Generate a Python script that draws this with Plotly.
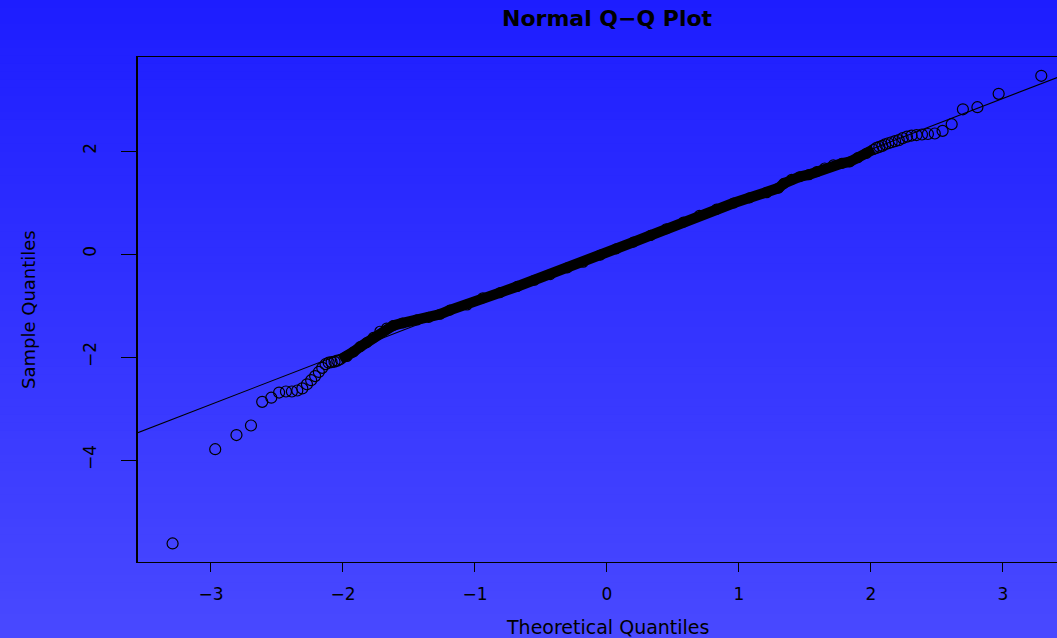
import plotly.graph_objects as go

# ---- data ----
# lower tail: theoretical quantiles and sample quantiles
theo_low = [-3.291, -2.968, -2.807, -2.697, -2.612, -2.543, -2.484, -2.432, -2.387, -2.346,
            -2.308, -2.273, -2.241, -2.211, -2.183, -2.157, -2.132, -2.108, -2.086, -2.064, -2.043]
samp_low = [-5.62, -3.79, -3.515, -3.33, -2.87, -2.79, -2.69, -2.67, -2.67, -2.65,
            -2.61, -2.53, -2.45, -2.37, -2.29, -2.21, -2.14, -2.11, -2.10, -2.09, -2.07]

# dense central band (points overlap into a solid band)
band_theo = [-2.02, -1.97, -1.92, -1.87, -1.82, -1.77, -1.72, -1.67, -1.62, -1.55, -1.44, -1.35,
             -1.265, -1.19, -1.06, -0.94, -0.81, -0.68, -0.55, -0.43, -0.30, -0.18, -0.05, 0.07,
             0.20, 0.33, 0.45, 0.58, 0.70, 0.83, 0.96, 1.08, 1.21, 1.30, 1.34, 1.40, 1.46, 1.53,
             1.59, 1.65, 1.715, 1.78, 1.84, 1.90, 1.967, 2.02]
band_samp = [-2.05, -1.99, -1.90, -1.80, -1.72, -1.62, -1.50, -1.44, -1.39, -1.34, -1.28, -1.23,
             -1.17, -1.09, -0.99, -0.85, -0.75, -0.63, -0.51, -0.40, -0.27, -0.16, -0.02, 0.10,
             0.23, 0.36, 0.49, 0.62, 0.75, 0.87, 0.99, 1.09, 1.19, 1.28, 1.37, 1.45, 1.50, 1.54,
             1.60, 1.67, 1.73, 1.76, 1.79, 1.87, 1.955, 2.03]

# upper tail
theo_high = [2.043, 2.064, 2.086, 2.108, 2.132, 2.157, 2.183, 2.211, 2.241, 2.273, 2.308,
             2.346, 2.387, 2.432, 2.484, 2.543, 2.612, 2.697, 2.807, 2.968, 3.291]
samp_high = [2.06, 2.08, 2.10, 2.13, 2.15, 2.17, 2.19, 2.21, 2.25, 2.28, 2.30,
             2.31, 2.32, 2.33, 2.34, 2.39, 2.52, 2.81, 2.85, 3.11, 3.46]

# reference line (qqline) parameters
line_intercept = 0.05
line_slope = 0.99

x_ticks = [-3, -2, -1, 0, 1, 2, 3]
y_ticks = [-4, -2, 0, 2]
x_range = [-3.553, 3.41]
y_range = [-5.98, 3.825]

title_text = "Normal Q\u2212Q Plot"
x_title = "Theoretical Quantiles"
y_title = "Sample Quantiles"

# ---- figure ----
W, H = 1057, 638
L, T, B = 138, 57, 76
plot_h = H - T - B
plot_w = W - L

fig = go.Figure()

marker_style = dict(symbol="circle-open", size=11, color="black", line=dict(width=1.2))
band_marker = dict(symbol="circle-open", size=10, color="black", line=dict(width=1.2))

fig.add_trace(go.Scatter(x=band_theo, y=band_samp, mode="lines+markers",
                         line=dict(color="black", width=10.5), marker=band_marker,
                         hoverinfo="skip", showlegend=False))
fig.add_trace(go.Scatter(x=theo_low + theo_high, y=samp_low + samp_high, mode="markers",
                         marker=marker_style, showlegend=False))

lx = [x_range[0] - 0.1, x_range[1] + 0.1]
ly = [line_intercept + line_slope * v for v in lx]
fig.add_trace(go.Scatter(x=lx, y=ly, mode="lines", line=dict(color="black", width=1.1),
                         showlegend=False, hoverinfo="skip"))

# vertical gradient background
shapes = []
n_strips = 80
top_c, bot_c = 29, 73
for i in range(n_strips):
    py0 = H * i / n_strips
    py1 = H * (i + 1) / n_strips + 1
    t = (i + 0.5) / n_strips
    c = round(top_c + (bot_c - top_c) * t)
    shapes.append(dict(type="rect", xref="paper", yref="paper", layer="below",
                       x0=-0.2, x1=1.05,
                       y0=(H - B - py1) / plot_h, y1=(H - B - py0) / plot_h,
                       fillcolor=f"rgb({c},{c},255)", line=dict(width=0)))

font_family = "DejaVu Sans, Liberation Sans, Arial, sans-serif"

def px_to_paper_x(px):
    return (px - L) / plot_w

def py_to_paper_y(py):
    return (H - B - py) / plot_h

annotations = [
    dict(text=f"<b>{title_text}</b>", xref="paper", yref="paper",
         x=px_to_paper_x(607), y=py_to_paper_y(19), xanchor="center", yanchor="middle",
         showarrow=False, font=dict(size=22, color="black", family=font_family)),
    dict(text=x_title, xref="paper", yref="paper",
         x=px_to_paper_x(607), y=py_to_paper_y(627), xanchor="center", yanchor="middle",
         showarrow=False, font=dict(size=19, color="black", family=font_family)),
    dict(text=y_title, xref="paper", yref="paper", textangle=-90,
         x=px_to_paper_x(28), y=py_to_paper_y(310), xanchor="center", yanchor="middle",
         showarrow=False, font=dict(size=18, color="black", family=font_family)),
]

fig.update_layout(
    width=W, height=H,
    margin=dict(l=L, r=0, t=T, b=B, pad=0),
    paper_bgcolor="rgb(50,50,255)",
    plot_bgcolor="rgba(0,0,0,0)",
    shapes=shapes,
    annotations=annotations,
    showlegend=False,
    font=dict(family=font_family, color="black", size=17),
    xaxis=dict(range=x_range, tickvals=x_ticks, ticks="outside", ticklen=9, tickwidth=1,
               tickcolor="black", showgrid=False, zeroline=False, showline=True, mirror=True,
               linecolor="black", linewidth=1, ticklabelstandoff=8,
               tickfont=dict(size=17, color="black")),
    yaxis=dict(range=y_range, tickvals=y_ticks, ticks="outside", ticklen=15, tickwidth=1,
               tickcolor="black", showgrid=False, zeroline=False, showline=True, mirror=False,
               linecolor="black", linewidth=1.5, tickangle=-90, ticklabelstandoff=18,
               tickfont=dict(size=17, color="black")),
)

fig.write_html("out.html", config={"displayModeBar": False},
               post_script="document.body.style.margin='0';document.body.style.overflow='hidden';")
